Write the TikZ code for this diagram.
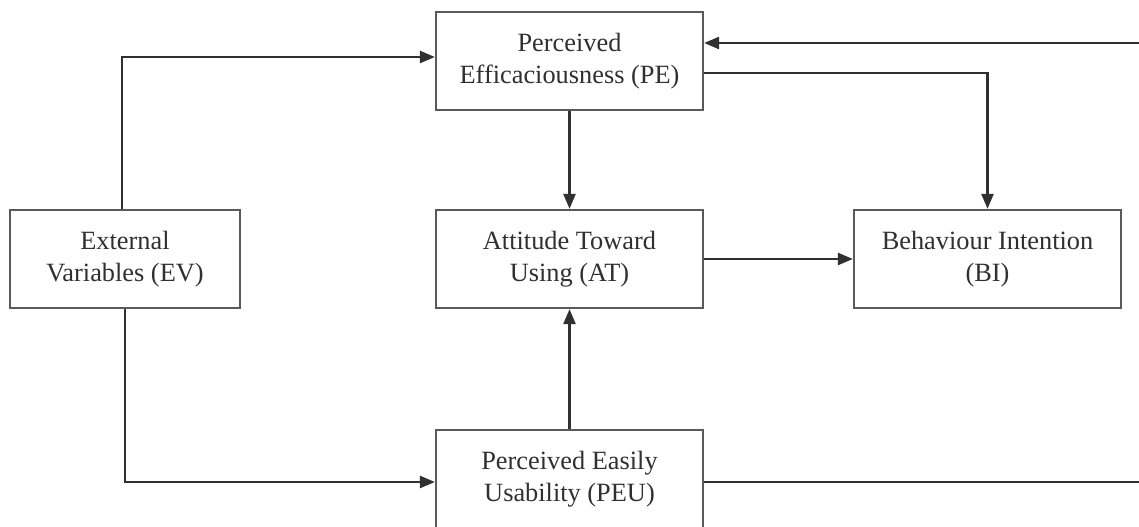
\documentclass[tikz,border=0pt]{standalone}
\usepackage{fontspec}
\setmainfont{Liberation Serif}
\usepackage{tikz}
\usepackage{xcolor}
\usetikzlibrary{arrows.meta,positioning,calc}
\definecolor{ink}    {HTML}{303030}
\definecolor{inkgray}{HTML}{5A5A5A}
\tikzset{
  box/.style  ={draw=inkgray, fill=white, line width=1.3pt,
                minimum width=5.34cm, minimum height=1.96cm,
                align=center, text=ink, inner sep=4pt,
                font=\fontsize{15}{18}\selectfont},
  arr/.style  ={-{Triangle[length=0.3cm,width=0.24cm]}, line width=1.4pt,
                color=ink},
}

\begin{document}
\begin{tikzpicture}[x=0.02cm,y=0.02cm]
  \useasboundingbox (0,0) rectangle (1139,527);
  \clip (0,0) rectangle (1139,527);

  \node[box] (PE) at (569.5,466) {Perceived\\Efficaciousness (PE)};
  \node[box,minimum width=4.6cm] (EV) at (125,268) {External\\Variables (EV)};
  \node[box] (AT) at (569.5,268) {Attitude Toward\\Using (AT)};
  \node[box] (BI) at (987.5,268) {Behaviour Intention\\(BI)};
  \node[box] (PEU) at (569.5,48) {Perceived Easily\\Usability (PEU)};

  \coordinate (fb) at (1150,484);

  \draw[arr] ([xshift=-0.06cm]EV.north) |- ([yshift=0.08cm]PE.west);
  \draw[arr] (EV.south) |- ([yshift=-0.06cm]PEU.west);
  \draw[arr] (PE) -- (AT);
  \draw[arr] (PEU) -- (AT);
  \draw[arr] (AT) -- (BI);
  \draw[arr] ([yshift=-0.24cm]PE.east) -| (BI.north);
  \draw[arr] ([yshift=-0.06cm]PEU.east) -| (fb) -- (fb -| PE.east);
\end{tikzpicture}
\end{document}
